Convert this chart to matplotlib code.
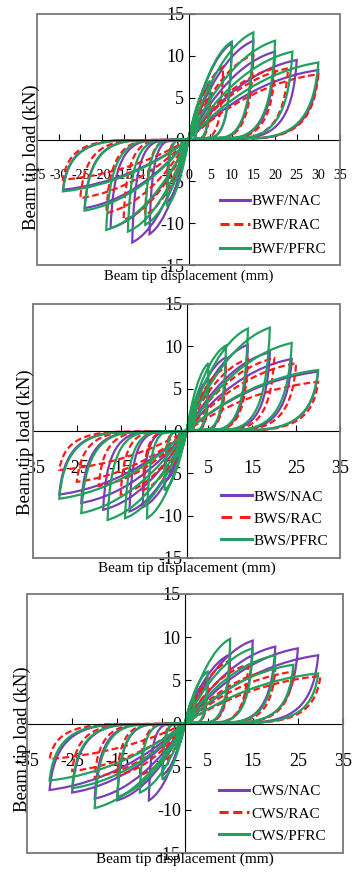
import matplotlib
matplotlib.use("Agg")
import matplotlib.pyplot as plt
from matplotlib.patches import PathPatch, Rectangle
from matplotlib.path import Path

plt.rcParams["font.family"] = ["Liberation Serif", "DejaVu Serif"]
plt.rcParams["axes.unicode_minus"] = False

# cycle peaks (displacement mm, load kN)
bwf_nac_pos = [(2, 3), (5, 6.5), (10, 11.5), (15, 11.8), (20, 10.5), (25, 9.5), (30, 8.3)]
bwf_nac_neg = [(-2, -3), (-5, -7.5), (-9, -11.3), (-13, -12.3), (-18, -10.6), (-24, -8.2), (-29, -6.0)]
bwf_rac_pos = [(2, 2.5), (5, 5), (8, 8.7), (15, 10.1), (20, 8.5), (23, 8.5), (30, 7.8)]
bwf_rac_neg = [(-2, -2.5), (-5, -5.5), (-10, -9), (-15, -9.6), (-19, -8.8), (-25, -7), (-29, -4.8)]
bwf_pfrc_pos = [(2, 3), (5, 7), (10, 11.7), (15, 12.8), (20, 11.8), (24, 10.5), (30, 9.2)]
bwf_pfrc_neg = [(-2, -3), (-5, -8), (-10, -10.2), (-14, -11), (-19, -10.8), (-24, -8.5), (-29, -6.2)]

bws_nac_pos = [(2, 2.5), (5, 6), (9, 8.7), (14, 10.2), (19, 9.3), (24, 8.5), (30, 7.0)]
bws_nac_neg = [(-2, -2.5), (-5, -6), (-10, -9), (-13, -9.5), (-19, -9.3), (-24, -8.5), (-29, -7.5)]
bws_rac_pos = [(2, 2), (5, 5), (9, 7.5), (14, 8.5), (20, 8.6), (25, 8), (30, 5.8)]
bws_rac_neg = [(-2, -2), (-5, -5), (-10, -7), (-15, -7.5), (-20, -6.5), (-25, -6), (-29, -4.6)]
bws_pfrc_pos = [(2, 3), (5, 8), (9, 10.1), (14, 12.1), (19, 12.2), (24, 10.4), (30, 7.2)]
bws_pfrc_neg = [(-2, -3), (-5, -7), (-9, -10.3), (-14, -10.3), (-18, -10.5), (-24, -9.7), (-29, -8)]

cws_nac_pos = [(2, 2.5), (5, 5), (10, 8), (15, 9.6), (20, 8.9), (25, 8.7), (29.5, 7.9)]
cws_nac_neg = [(-2, -2.5), (-5, -6), (-8, -8.9), (-15, -8.9), (-20, -8.7), (-25, -8), (-30, -7.7)]
cws_rac_pos = [(2, 2), (5, 4.5), (10, 7.3), (14, 6.8), (20, 6.3), (24, 6), (30, 5.5)]
cws_rac_neg = [(-2, -2), (-5, -4.5), (-10, -6), (-15, -6), (-20, -6.2), (-25, -5.5), (-30, -4.1)]
cws_pfrc_pos = [(2, 3), (5, 6), (10, 9.8), (15, 8.7), (20, 7.9), (24, 6.8), (29.5, 5.8)]
cws_pfrc_neg = [(-2, -3), (-5, -6.5), (-10, -8), (-15, -8.5), (-20, -9.8), (-25, -7.5), (-30, -6.6)]

series_names = ["NAC", "RAC", "PFRC"]
panel_prefix = ["BWF", "BWS", "CWS"]
panel_series = [
    [(bwf_nac_pos, bwf_nac_neg), (bwf_rac_pos, bwf_rac_neg), (bwf_pfrc_pos, bwf_pfrc_neg)],
    [(bws_nac_pos, bws_nac_neg), (bws_rac_pos, bws_rac_neg), (bws_pfrc_pos, bws_pfrc_neg)],
    [(cws_nac_pos, cws_nac_neg), (cws_rac_pos, cws_rac_neg), (cws_pfrc_pos, cws_pfrc_neg)],
]

COLORS = ["#7a3fb8", "#ff1a1a", "#21a05e"]
STYLES = ["-", (0, (3, 1.5)), "-"]
LEGEND_DASH = [(0, (3, 1.5)), (0, (3.5, 2.5)), (0, (3, 1.5))]

# loop shape, as fractions of the cycle peak
LOAD_CTRL = [(0.28, 0.52), (0.62, 0.9)]
UNLOAD_CTRL = [(0.97, 0.35), (0.85, 0.06), (0.55, 0.02)]


def hysteresis_path(pos_peaks, neg_peaks):
    verts, codes = [(0, 0)], [Path.MOVETO]
    for pos, neg in zip(pos_peaks, neg_peaks):
        for d, p in (pos, neg):
            verts += [(fx * d, fy * p) for fx, fy in LOAD_CTRL] + [(d, p)]
            verts += [(fx * d, fy * p) for fx, fy in UNLOAD_CTRL] + [(0, 0)]
            codes += [Path.CURVE4] * 6 + [Path.LINETO]
    return Path(verts, codes)


# axes boxes in pixels (left, top, right, bottom) of a 354x881 figure
W, H = 354, 881
boxes = [(37, 14, 340, 265), (33, 304, 340, 558), (27, 594, 343, 853)]
xtick_step = [5, 10, 10]
xtick_size = [10, 13, 13]
legend_anchor = [(0.955, 0.035), (0.96, 0.04), (0.945, 0.04)]
legend_spacing = [0.68, 0.55, 0.55]
xlabel_y = [276, 568, 859]
ylabel_pos = [(31, 157), (25, 442), (22, 739)]
xlabel_size = [10.5, 11, 11]

fig = plt.figure(figsize=(W / 100, H / 100), dpi=100)

for i in range(3):
    l, t, r, b = boxes[i]
    ax = fig.add_axes([l / W, 1 - b / H, (r - l) / W, (b - t) / H])
    ax.set_xlim(-35, 35)
    ax.set_ylim(-15, 15)

    for k in range(3):
        pos, neg = panel_series[i][k]
        ax.add_patch(PathPatch(hysteresis_path(pos, neg), fill=False, edgecolor=COLORS[k],
                               linewidth=1.6, linestyle=STYLES[k], zorder=2 + k * 0.1))
        ax.plot([], [], color=COLORS[k], lw=2.2,
                linestyle=LEGEND_DASH[i] if k == 1 else "-",
                label=f"{panel_prefix[i]}/{series_names[k]}")

    ax.spines["left"].set_position(("data", 0))
    ax.spines["bottom"].set_position(("data", 0))
    ax.spines["top"].set_visible(False)
    ax.spines["right"].set_visible(False)
    ax.add_patch(Rectangle((0, 0), 1, 1, transform=ax.transAxes, fill=False,
                           edgecolor="#777777", linewidth=1.3, clip_on=False, zorder=3))

    ax.set_xticks(list(range(-35, 36, xtick_step[i])))
    ax.set_yticks(list(range(-15, 16, 5)))
    ax.tick_params(direction="in", length=4, width=0.8)
    ax.tick_params(axis="x", pad=21, labelsize=xtick_size[i])
    ax.tick_params(axis="y", pad=3, labelsize=13)

    ax.legend(loc="lower right", bbox_to_anchor=legend_anchor[i], frameon=False,
              fontsize=11, handlelength=2.0, handletextpad=0.1,
              labelspacing=legend_spacing[i], borderpad=0, borderaxespad=0)

    fig.text(((l + r) / 2) / W, 1 - xlabel_y[i] / H, "Beam tip displacement (mm)",
             ha="center", va="center", fontsize=xlabel_size[i])
    fig.text(ylabel_pos[i][0] / W, 1 - ylabel_pos[i][1] / H, "Beam tip load (kN)",
             ha="center", va="center", rotation=90, fontsize=13.5)

fig.savefig("out.png", dpi=100)
